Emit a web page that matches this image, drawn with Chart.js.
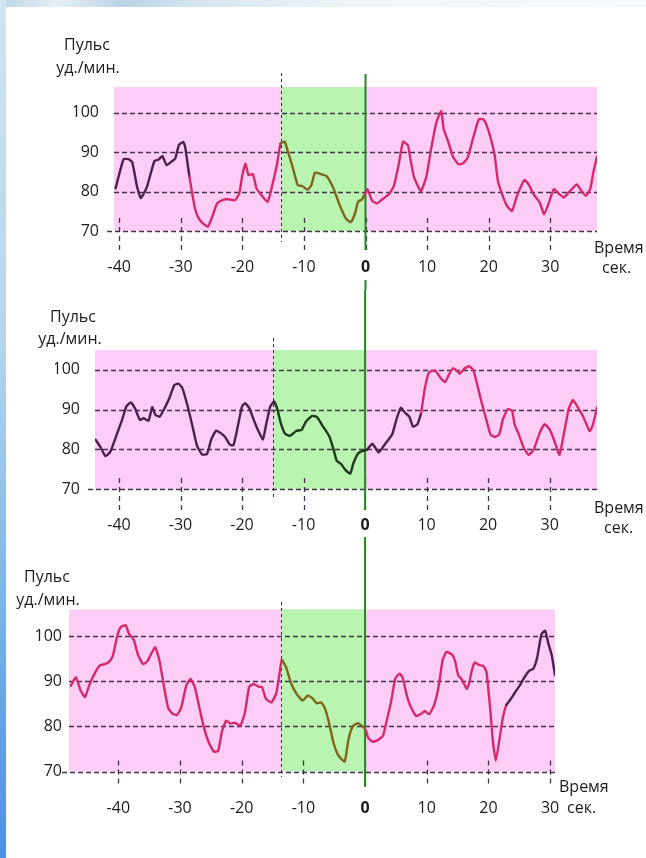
<!DOCTYPE html>
<html><head><meta charset="utf-8">
<script src="https://cdn.jsdelivr.net/npm/chart.js@4"></script>
<style>
html,body{margin:0;padding:0;background:#fff;}
body{width:646px;height:858px;position:relative;overflow:hidden;font-family:"Open Sans",sans-serif;}
#stripT{position:absolute;left:0;top:0;width:646px;height:7px;background:linear-gradient(90deg,#bcd6e6,#e6f0f6 9%,#b9d3e4 19%,#d5e6f0 30%,#eef5f9 55%,#f7fafc);}
#stripL{position:absolute;left:0;top:0;width:6px;height:858px;background:linear-gradient(#d0e5f0,#b3d6ee 40%,#72afe8 75%,#4b91e4);}
canvas{position:absolute;left:0;}
</style></head><body>
<div id="stripT"></div><div id="stripL"></div>
<canvas id="c1" width="646" height="290" style="top:0px"></canvas>
<canvas id="c2" width="646" height="260" style="top:290px"></canvas>
<canvas id="c3" width="646" height="308" style="top:550px"></canvas>
<script>
// ---------- data ----------
const xTicks = [-40, -30, -20, -10, 0, 10, 20, 30];
const yTicks = [70, 80, 90, 100];

const p1Time = [-40.6,-39.3,-38.5,-37.9,-37.1,-36.5,-35.5,-34.3,-33.6,-33.0,
  -32.3,-31.5,-30.9,-30.3,-29.6,-29.3,-28.6,-28.1,-27.7,-27.1,
  -26.3,-25.6,-24.9,-24.1,-23.4,-22.5,-21.2,-20.5,-20.0,-19.5,
  -19.0,-18.3,-17.7,-16.9,-15.9,-15.2,-14.4,-13.8,-13.1,-12.6,
  -12.0,-11.0,-10.3,-9.4,-8.8,-8.2,-7.2,-6.3,-5.2,-4.2,
  -3.2,-2.4,-1.7,-1.2,-0.6,-0.1,0.3,1.1,1.9,2.7,
  3.8,4.6,5.4,6.1,6.9,7.3,7.9,9.0,9.9,10.6,
  11.5,12.3,12.7,13.4,14.2,15.1,15.9,16.6,17.5,18.4,
  19.1,19.6,20.4,21.0,21.5,22.2,23.0,23.8,24.6,25.8,
  26.5,27.3,28.3,29.0,29.7,30.6,31.5,32.2,33.2,34.3,
  35.1,35.8,36.5,37.0,37.6];
const p1Pulse = [80.8,88.2,88.2,87.5,81.2,78.3,81.2,87.7,88.1,89.0,
  86.7,87.6,88.4,91.8,92.6,91.4,83.8,79.1,75.7,73.2,
  71.8,71.1,73.6,77.0,77.7,78.1,77.8,79.5,84.2,87.1,
  84.2,84.4,80.8,79.1,77.4,81.2,86.7,92.2,92.6,90.1,
  87.1,81.6,81.4,80.5,81.6,84.8,84.4,83.9,80.8,76.6,
  73.2,72.2,74.5,77.4,78.0,79.3,80.6,77.6,77.0,78.0,
  79.3,81.4,86.9,92.6,91.7,88.2,83.5,80.1,83.9,90.3,
  97.5,100.4,95.8,92.8,88.9,86.9,87.2,88.6,93.7,98.3,
  98.3,97.1,93.2,89.0,82.7,79.3,76.3,75.1,78.9,82.9,
  81.8,79.3,77.2,74.2,76.8,80.6,79.3,78.5,80.1,81.8,
  80.1,78.9,80.6,84.8,88.9];

const p2Time = [-43.8,-43.0,-42.2,-41.4,-40.3,-39.5,-38.8,-38.1,-37.4,-36.6,
  -36.0,-35.2,-34.6,-34.1,-33.4,-32.6,-31.8,-31.0,-30.3,-29.7,
  -28.9,-28.1,-27.3,-26.5,-25.7,-25.0,-24.2,-23.4,-22.7,-22.0,
  -21.4,-20.7,-20.0,-19.5,-18.8,-18.0,-17.3,-16.6,-16.1,-15.4,
  -14.8,-14.3,-13.7,-13.0,-12.2,-11.2,-10.3,-9.6,-8.6,-7.8,
  -6.9,-5.8,-5.1,-4.6,-3.9,-3.2,-2.4,-1.9,-1.1,-0.4,
  0.3,1.2,2.2,3.0,3.6,4.4,5.1,5.8,6.5,7.2,
  7.8,8.5,9.1,9.7,10.4,11.4,12.2,13.0,13.7,14.3,
  14.9,15.4,16.2,16.9,17.6,18.4,19.1,19.7,20.4,21.1,
  21.8,22.4,23.2,23.9,24.3,25.0,25.8,26.6,27.4,28.4,
  29.2,30.0,30.8,31.6,32.4,33.1,33.8,34.6,35.4,36.5,
  37.0,37.7];
const p2Pulse = [82.4,80.5,78.3,79.4,84.0,87.4,90.8,91.8,90.3,87.4,
  87.8,87.2,90.6,88.7,88.2,90.3,92.9,96.2,96.5,95.4,
  91.2,86.1,80.8,78.7,78.8,82.5,84.7,84.0,83.0,81.2,
  81.0,85.7,90.8,91.6,90.3,87.0,84.5,82.5,86.1,90.8,
  92.0,90.3,86.6,83.9,83.4,84.6,84.9,87.0,88.4,88.1,
  85.9,83.2,79.8,77.1,76.3,74.8,73.9,76.5,79.0,79.6,
  79.9,81.4,79.2,80.8,82.0,83.7,87.5,90.5,89.2,88.2,
  85.7,86.3,89.1,95.2,99.4,99.8,98.1,96.9,99.0,100.4,
  99.8,99.0,100.4,100.9,100.0,95.2,90.9,87.5,83.7,83.1,
  83.7,87.5,90.1,89.7,86.3,83.7,80.3,78.6,79.9,84.2,
  86.3,85.0,82.0,78.6,84.6,90.1,92.4,90.5,88.4,84.6,
  86.0,90.5];

const p3Time = [-47.7,-46.9,-46.1,-45.4,-44.7,-43.8,-43.0,-42.2,-41.5,-40.9,
  -40.2,-39.6,-38.8,-38.3,-37.5,-36.8,-36.0,-35.3,-34.6,-34.0,
  -33.3,-32.6,-31.9,-31.2,-30.5,-29.8,-29.0,-28.3,-27.6,-26.9,
  -26.1,-25.3,-24.5,-23.8,-23.2,-22.5,-21.8,-21.1,-20.2,-19.5,
  -18.8,-18.1,-17.3,-16.7,-16.1,-15.2,-14.4,-13.9,-13.5,-12.8,
  -12.0,-11.1,-10.1,-9.3,-8.5,-7.8,-7.1,-6.5,-5.9,-5.1,
  -4.3,-3.3,-2.7,-2.0,-1.2,-0.5,0.1,0.5,1.2,2.0,
  2.9,3.5,4.2,4.9,5.6,6.1,6.8,7.3,8.3,9.0,
  9.7,10.4,11.2,11.9,12.6,13.2,14.1,14.6,15.1,15.7,
  16.5,16.9,17.3,17.8,18.5,19.2,19.7,20.3,20.7,21.2,
  21.8,22.3,22.9,23.6,24.3,25.1,25.9,26.6,27.3,27.9,
  28.6,29.2,29.7,30.3,30.8];
const p3Pulse = [89.0,90.9,87.9,86.5,89.2,91.8,93.5,93.8,94.3,95.6,
  99.9,102.0,102.4,100.6,99.2,95.8,93.8,94.4,96.3,97.5,
  94.4,88.8,84.0,82.8,82.5,84.2,89.0,90.5,88.7,84.4,
  79.6,76.3,74.4,74.6,78.9,81.3,80.6,80.8,80.2,82.9,
  88.7,89.4,88.8,88.7,86.2,85.3,87.3,91.4,94.7,93.1,
  89.6,87.2,85.7,86.8,86.2,85.1,85.3,84.0,81.1,76.3,
  73.5,72.2,77.0,80.0,80.7,80.1,79.2,77.5,76.6,76.9,
  77.9,81.2,85.3,90.6,91.7,90.8,86.7,84.7,82.3,82.7,
  83.4,82.7,84.7,88.6,94.8,96.5,95.9,94.5,91.3,90.4,
  88.3,89.7,92.3,94.2,93.6,93.4,92.0,83.8,77.1,72.4,
  77.1,81.6,84.7,86.0,87.5,89.1,91.0,92.3,92.8,95.2,
  100.4,101.2,98.5,95.6,91.3];

// start of the green (pre-event) zone, seconds
const p1GreenStart = -13.75;
const p2GreenStart = -14.9;
const p3GreenStart = -13.6;

// ---------- style ----------
const FONT = '"Open Sans", sans-serif';
const PURPLE = '#4a2050', CRIMSON = '#d42a6c', OLIVE = '#80661c', DKGREEN = '#1f3a1c';
const PINK = '#fdcdf8', GREEN = '#b9f4b1', GRID = 'rgba(50,30,60,0.9)', TXT = '#1c1c1c';
Chart.defaults.font.family = FONT;

const panels = [
  { id:'c1', h:290, time:p1Time, pulse:p1Pulse, greenStart:p1GreenStart,
    breaks:[-28.4, p1GreenStart, 0], colors:[PURPLE, CRIMSON, OLIVE, CRIMSON],
    area:{left:114, right:597, top:87, bottom:231}, xMin:-40.85, xMax:37.6, yMax:106.5, gap:15,
    vline:[[74,250],[280,290]], dashV:[73,242], tick:[-13,22],
    titles:[['Пульс',87,45,'center'],['уд./мин.',88,68,'center'],['Время',594,248,'left'],['сек.',602,268,'left']] },
  { id:'c2', h:260, time:p2Time, pulse:p2Pulse, greenStart:p2GreenStart,
    breaks:[p2GreenStart, 0, 9.0], colors:[PURPLE, DKGREEN, PURPLE, CRIMSON],
    area:{left:95, right:597, top:60, bottom:199}, xMin:-43.9, xMax:37.7, yMax:105.0, gap:15,
    vline:[[0,220],[247,260]], dashV:[48,210], tick:[-11,21],
    titles:[['Пульс',73,27,'center'],['уд./мин.',70,49,'center'],['Время',594,218,'left'],['сек.',604,238,'left']] },
  { id:'c3', h:308, time:p3Time, pulse:p3Pulse, greenStart:p3GreenStart,
    breaks:[p3GreenStart, 0, 22.9], colors:[CRIMSON, OLIVE, CRIMSON, PURPLE],
    area:{left:69, right:555, top:59.5, bottom:221.5}, xMin:-48.0, xMax:30.8, yMax:105.9, gap:7,
    vline:[[0,237]], dashV:[52,227], tick:[-11,16],
    titles:[['Пульс',47,27,'center'],['уд./мин.',48,50,'center'],['Время',559,237,'left'],['сек.',567,258,'left']] }
];

const YW = 40, XH = 50;

const decor = {
  id:'decor',
  beforeDraw(chart, args, o){
    const {ctx, chartArea:a, scales:{x}} = chart;
    ctx.save();
    ctx.fillStyle = PINK;
    ctx.fillRect(a.left, a.top, a.right-a.left, a.bottom-a.top);
    const g0 = x.getPixelForValue(o.p.greenStart), g1 = x.getPixelForValue(0);
    ctx.fillStyle = GREEN;
    ctx.fillRect(g0, a.top, g1-g0, a.bottom-a.top);
    ctx.restore();
  },
  beforeDatasetsDraw(chart, args, o){
    const p = o.p;
    const {ctx, chartArea:a, scales:{x, y}} = chart;
    ctx.save();
    // horizontal grid lines
    ctx.strokeStyle = GRID; ctx.lineWidth = 1.3; ctx.setLineDash([5,3]);
    yTicks.forEach(v=>{
      const py = Math.round(y.getPixelForValue(v))+0.5;
      ctx.beginPath();
      ctx.moveTo(v===yTicks[0] ? a.left-7 : a.left, py);
      ctx.lineTo(a.right, py); ctx.stroke();
    });
    // tick dashes
    ctx.setLineDash([5,4]);
    xTicks.forEach(v=>{
      const px = Math.round(x.getPixelForValue(v))+0.5;
      ctx.beginPath(); ctx.moveTo(px, a.bottom+p.tick[0]); ctx.lineTo(px, a.bottom+p.tick[1]); ctx.stroke();
    });
    // dashed boundary of the green zone
    ctx.strokeStyle = '#333'; ctx.lineWidth = 1; ctx.setLineDash([3,3]);
    const gx = Math.round(x.getPixelForValue(p.greenStart))+0.5;
    ctx.beginPath(); ctx.moveTo(gx, p.dashV[0]); ctx.lineTo(gx, p.dashV[1]); ctx.stroke();
    // solid green event line at 0
    ctx.setLineDash([]); ctx.strokeStyle = '#1e8c1e'; ctx.lineWidth = 2;
    const zx = x.getPixelForValue(0);
    p.vline.forEach(s=>{ ctx.beginPath(); ctx.moveTo(zx, s[0]); ctx.lineTo(zx, s[1]); ctx.stroke(); });
    ctx.restore();
  },
  afterDraw(chart, args, o){
    const ctx = chart.ctx;
    ctx.save();
    ctx.fillStyle = TXT; ctx.font = '16px ' + FONT; ctx.textBaseline = 'middle';
    o.p.titles.forEach(t=>{ ctx.textAlign = t[3]; ctx.fillText(t[0], t[1], t[2]); });
    ctx.restore();
  }
};

function colorAt(p, xv){
  for (let i=0;i<p.breaks.length;i++) if (xv < p.breaks[i]) return p.colors[i];
  return p.colors[p.colors.length-1];
}

panels.forEach(p=>{
  const a = p.area;
  new Chart(document.getElementById(p.id), {
    type:'line',
    data:{ datasets:[{
      data: p.time.map((t,i)=>({x:t, y:p.pulse[i]})),
      borderWidth:2.4, pointRadius:0, tension:0.15, fill:false, borderColor:CRIMSON,
      borderCapStyle:'round', borderJoinStyle:'round',
      segment:{ borderColor: c => colorAt(p, (c.p0.parsed.x + c.p1.parsed.x)/2) }
    }]},
    options:{
      responsive:false, animation:false, devicePixelRatio:1,
      layout:{ padding:{ left:a.left-YW, right:646-a.right, top:a.top, bottom:p.h-a.bottom-XH } },
      plugins:{ legend:{display:false}, tooltip:{enabled:false}, decor:{p:p} },
      scales:{
        x:{ type:'linear', min:p.xMin, max:p.xMax,
            grid:{display:false, drawTicks:false}, border:{display:false},
            afterFit(s){ s.height = XH; },
            afterBuildTicks(s){ s.ticks = xTicks.map(v=>({value:v})); },
            ticks:{ padding:27, color:TXT, autoSkip:false, maxRotation:0,
              callback:v=>String(v),
              font:c=>({family:FONT, size:16, weight:(c.tick && c.tick.value===0)?'bold':'normal'}) } },
        y:{ type:'linear', min:70, max:p.yMax,
            grid:{display:false, drawTicks:false}, border:{display:false},
            afterFit(s){ s.width = YW; },
            afterBuildTicks(s){ s.ticks = yTicks.map(v=>({value:v})); },
            ticks:{ padding:p.gap, color:TXT, callback:v=>String(v), font:{family:FONT, size:16} } }
      }
    },
    plugins:[decor]
  });
});
</script>
</body></html>
